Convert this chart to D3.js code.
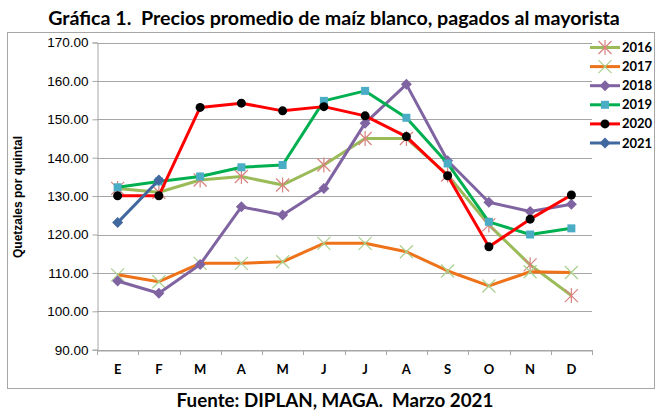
<!DOCTYPE html>
<html><head><meta charset="utf-8">
<script src="https://cdn.jsdelivr.net/npm/d3@7"></script>
<style>body{margin:0;background:#fff} text{white-space:pre}</style>
</head><body>
<svg id="c" width="657" height="411"></svg>
<script>
const months = ["E","F","M","A","M","J","J","A","S","O","N","D"];
const yTicks = [90,100,110,120,130,140,150,160,170];
const years = ["2016","2017","2018","2019","2020","2021"];
const v2016 = [132,131,134.2,135.1,132.9,138.1,145,145,135.5,122.5,112.1,104.1];
const v2017 = [109.5,107.7,112.5,112.5,112.9,117.7,117.7,115.5,110.5,106.6,110.3,110.1];
const v2018 = [107.9,104.7,112.2,127.2,125.1,132,149,159.1,139.2,128.4,126,127.9];
const v2019 = [132.3,133.8,135.1,137.5,138.1,154.8,157.4,150.4,138.5,123.3,120,121.6];
const v2020 = [130.1,130.1,153.1,154.2,152.2,153.3,150.9,145.5,135.3,116.8,124,130.3];
const v2021 = [123.1,134.2];
const title = "Gráfica 1.  Precios promedio de maíz blanco, pagados al mayorista";
const source = "Fuente: DIPLAN, MAGA.  Marzo 2021";
const yLabel = "Quetzales por quintal";

const styles = {
  "2016": {line:"#9BBB59", marker:"asterisk", mcolor:"#D9837F"},
  "2017": {line:"#EE7219", marker:"x", mcolor:"#A9D18E"},
  "2018": {line:"#8064A2", marker:"diamond", mcolor:"#8064A2"},
  "2019": {line:"#00B050", marker:"square", mcolor:"#4BACC6"},
  "2020": {line:"#FF0000", marker:"circle", mcolor:"#000000"},
  "2021": {line:"#41689F", marker:"diamond", mcolor:"#41689F"}
};
const seriesVals = [v2016,v2017,v2018,v2019,v2020,v2021];

const svg = d3.select("#c");
const L=97, R=592, T=42.5, B=349.7;
const x = d3.scaleBand().domain(d3.range(12)).range([L,R]);
const y = d3.scaleLinear().domain([90,170]).range([B,T]);
const cx = i => x(i)+x.bandwidth()/2;

// outer border
svg.append("rect").attr("x",7.5).attr("y",32.5).attr("width",647).attr("height",356)
  .attr("fill","none").attr("stroke","#A6A6A6").attr("stroke-width",1);

// title
function fitText(sel, w){ const n=sel.node(); const cur=n.getComputedTextLength(); const fs=parseFloat(sel.attr("font-size")); sel.attr("font-size", fs*w/cur); }
const t = svg.append("text").attr("x",334).attr("y",25).attr("text-anchor","middle").attr("xml:space","preserve")
  .attr("font-family","Lato, 'Open Sans', sans-serif").attr("font-weight","bold").attr("font-size",18).attr("fill","#000").text(title);
fitText(t,572);
const s = svg.append("text").attr("x",335).attr("y",407).attr("text-anchor","middle").attr("xml:space","preserve")
  .attr("font-family","Lato, 'Open Sans', sans-serif").attr("font-weight","bold").attr("font-size",17).attr("fill","#000").text(source);
fitText(s,317);

// gridlines
svg.append("g").selectAll("line").data(yTicks).join("line")
  .attr("x1",L).attr("x2",R).attr("y1",d=>Math.round(y(d))+0.5).attr("y2",d=>Math.round(y(d))+0.5)
  .attr("stroke","#A6A6A6").attr("stroke-width",1);

// y axis
const ya = svg.append("g").attr("transform",`translate(${L+0.5},0)`)
  .call(d3.axisLeft(y).tickValues(yTicks).tickFormat(d3.format(".2f")).tickSize(5).tickPadding(4));
ya.select(".domain").attr("stroke","#A6A6A6");
ya.selectAll(".tick line").attr("stroke","#A6A6A6");
ya.selectAll("text").attr("font-family","'Liberation Sans', Arial, sans-serif").attr("font-size",13.5).attr("fill","#000");

// x axis
const xa = svg.append("g").attr("transform",`translate(0,${Math.round(B)+0.5})`)
  .call(d3.axisBottom(x).tickFormat(i=>months[i]).tickSize(0).tickPadding(14));
xa.select(".domain").attr("stroke","#A6A6A6");
xa.selectAll("text").attr("font-family","Lato, 'Open Sans', sans-serif").attr("font-weight","bold").attr("font-size",13).attr("fill","#000");
svg.append("g").selectAll("line").data(d3.range(13)).join("line")
  .attr("x1",i=>Math.round(L+i*x.bandwidth())+0.5).attr("x2",i=>Math.round(L+i*x.bandwidth())+0.5)
  .attr("y1",Math.round(B)).attr("y2",Math.round(B)+5).attr("stroke","#A6A6A6");

// y label
svg.append("text").attr("transform","translate(22,197) rotate(-90)").attr("text-anchor","middle")
  .attr("font-family","'Liberation Sans', Arial, sans-serif").attr("font-weight","bold").attr("font-size",12).text(yLabel);

function drawMarker(g, type, color, px, py){
  if(type==="asterisk"){
    const r=6.5;
    const path = `M${px-r},${py-r}L${px+r},${py+r}M${px-r},${py+r}L${px+r},${py-r}M${px},${py-r-1}L${px},${py+r+1}`;
    g.append("path").attr("d",path).attr("stroke",color).attr("stroke-width",1.2).attr("fill","none");
  } else if(type==="x"){
    const r=6.5;
    g.append("path").attr("d",`M${px-r},${py-r}L${px+r},${py+r}M${px-r},${py+r}L${px+r},${py-r}`)
      .attr("stroke",color).attr("stroke-width",1.2).attr("fill","none");
  } else if(type==="diamond"){
    const r=5.5;
    g.append("path").attr("d",`M${px},${py-r}L${px+r},${py}L${px},${py+r}L${px-r},${py}Z`).attr("fill",color);
  } else if(type==="square"){
    g.append("rect").attr("x",px-4).attr("y",py-4).attr("width",8).attr("height",8).attr("fill",color);
  } else if(type==="circle"){
    g.append("circle").attr("cx",px).attr("cy",py).attr("r",4.5).attr("fill",color);
  }
}

const line = d3.line().x((d,i)=>cx(i)).y(d=>y(d));
years.forEach((yr,k)=>{
  const st=styles[yr], vals=seriesVals[k];
  const g=svg.append("g");
  g.append("path").attr("d",line(vals)).attr("fill","none").attr("stroke",st.line)
    .attr("stroke-width",3).attr("stroke-linejoin","round");
  vals.forEach((v,i)=>drawMarker(g,st.marker,st.mcolor,cx(i),y(v)));
});

// legend
const lg = svg.append("g");
years.forEach((yr,k)=>{
  const st=styles[yr]; const ly=47.5+k*19.1;
  lg.append("line").attr("x1",590).attr("x2",620).attr("y1",ly).attr("y2",ly).attr("stroke",st.line).attr("stroke-width",3);
  drawMarker(lg,st.marker,st.mcolor,605,ly);
  lg.append("text").attr("x",622).attr("y",ly+4.5).attr("font-family","Lato, 'Open Sans', sans-serif")
    .attr("font-weight","bold").attr("font-size",13).text(yr);
});
</script>
</body></html>
